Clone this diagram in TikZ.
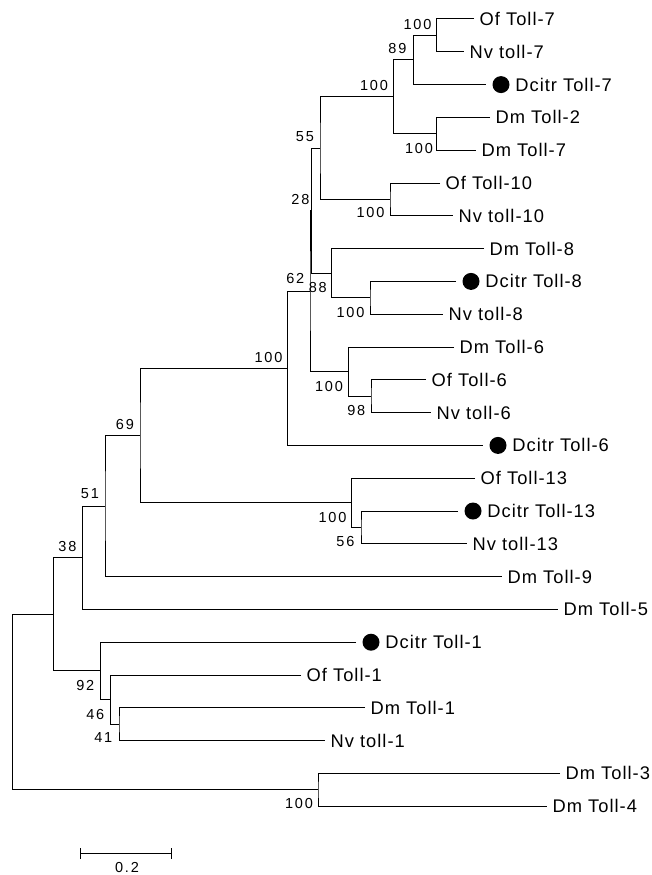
\documentclass[tikz,border=0pt]{standalone}
\usepackage{fontspec}
\setmainfont{Liberation Sans}
\newfontfamily\leaffont[LetterSpace=5.5]{Liberation Sans}
\newfontfamily\bsfont[LetterSpace=13]{Liberation Sans}
\begin{document}
\begin{tikzpicture}[x=1pt,y=-1pt,
  br/.style={line width=1pt},
  leaf/.style={anchor=west, inner sep=0pt, xshift=5.5pt, font=\leaffont\fontsize{18.3}{18.3}\selectfont, text height=13.1pt, text depth=0pt},
  boot/.style={inner sep=0pt, font=\bsfont\fontsize{14.5}{14.5}\selectfont, text height=10.4pt, text depth=0pt},
  dotmark/.style={circle, fill=black, draw=none, inner sep=0pt, minimum size=17pt}]
\useasboundingbox (0,0) rectangle (652,875);
% leaf line ends
\coordinate (of7) at (474,19);
\coordinate (nv7) at (464,51.8);
\coordinate (dc7) at (486,84.6);
\coordinate (dm2) at (490,117.4);
\coordinate (dm7) at (476,150.2);
\coordinate (of10) at (440,183);
\coordinate (nv10) at (453,215.8);
\coordinate (dm8) at (484,248.6);
\coordinate (dc8) at (456,281.4);
\coordinate (nv8) at (443,314.2);
\coordinate (dm6) at (454,347);
\coordinate (of6) at (426,379.8);
\coordinate (nv6) at (431,412.6);
\coordinate (dc6) at (483,445.4);
\coordinate (of13) at (475,478.2);
\coordinate (dc13) at (458,511);
\coordinate (nv13) at (467,543.8);
\coordinate (dm9) at (502,576.6);
\coordinate (dm5) at (558,609.4);
\coordinate (dc1) at (356,642.2);
\coordinate (of1) at (301,675);
\coordinate (dm1) at (365,707.8);
\coordinate (nv1) at (325,740.6);
\coordinate (dm3) at (560,773.4);
\coordinate (dm4) at (547,806.2);
% internal nodes
\coordinate (nA) at (436.7,35.4);
\coordinate (nB) at (413.3,60);
\coordinate (nC) at (436.7,133.8);
\coordinate (nD) at (393.3,96.9);
\coordinate (nE) at (390,199.4);
\coordinate (nF) at (320,148.15);
\coordinate (nI) at (370,297.8);
\coordinate (nP) at (331.7,273.2);
\coordinate (nG) at (311.5,210.7);
\coordinate (nJ) at (371,396.2);
\coordinate (nK) at (348.3,371.6);
\coordinate (n62) at (310,291.15);
\coordinate (nH) at (287.3,368.3);
\coordinate (nN) at (361,527.4);
\coordinate (nM) at (351.7,502.8);
\coordinate (nL) at (140,435.55);
\coordinate (nO) at (105,506.1);
\coordinate (nQ) at (82.3,557.75);
\coordinate (n41) at (119,724.2);
\coordinate (n46) at (110.7,699.6);
\coordinate (n92) at (100.7,670.9);
\coordinate (nR) at (53.3,614.3);
\coordinate (nS) at (318,789.8);
\coordinate (root) at (12.7,702.05);
% branches
\draw[br] (of7) -| (nA) |- (nv7);
\draw[br] (nA) -| (nB) |- (dc7);
\draw[br] (dm2) -| (nC) |- (dm7);
\draw[br] (nB) -| (nD) |- (nC);
\draw[br] (of10) -| (nE) |- (nv10);
\draw[br] (nD) -| (nF) |- (nE);
\draw[br] (dc8) -| (nI) |- (nv8);
\draw[br] (dm8) -| (nP) |- (nI);
\draw[br] (nF) -| (nG) |- (nP);
\draw[br] (of6) -| (nJ) |- (nv6);
\draw[br] (dm6) -| (nK) |- (nJ);
\draw[br] (nG) -| (n62) |- (nK);
\draw[br] (n62) -| (nH) |- (dc6);
\draw[br] (dc13) -| (nN) |- (nv13);
\draw[br] (of13) -| (nM) |- (nN);
\draw[br] (nH) -| (nL) |- (nM);
\draw[br] (nL) -| (nO) |- (dm9);
\draw[br] (nO) -| (nQ) |- (dm5);
\draw[br] (dm1) -| (n41) |- (nv1);
\draw[br] (of1) -| (n46) |- (n41);
\draw[br] (dc1) -| (n92) |- (n46);
\draw[br] (nQ) -| (nR) |- (n92);
\draw[br] (dm3) -| (nS) |- (dm4);
\draw[br] (nR) -| (root) |- (nS);
% dots
\node[dotmark] (Ddc7) at ([xshift=15pt]dc7) {};
\node[dotmark] (Ddc8) at ([xshift=15pt]dc8) {};
\node[dotmark] (Ddc6) at ([xshift=15pt]dc6) {};
\node[dotmark] (Ddc13) at ([xshift=15pt]dc13) {};
\node[dotmark] (Ddc1) at ([xshift=15pt]dc1) {};
% leaf labels
\node[leaf] (Lof7) at (of7) {Of Toll-7};
\node[leaf] (Lnv7) at (nv7) {Nv toll-7};
\node[leaf] (Ldc7) at (Ddc7.east) {Dcitr Toll-7};
\node[leaf] (Ldm2) at (dm2) {Dm Toll-2};
\node[leaf] (Ldm7) at (dm7) {Dm Toll-7};
\node[leaf] (Lof10) at (of10) {Of Toll-10};
\node[leaf] (Lnv10) at (nv10) {Nv toll-10};
\node[leaf] (Ldm8) at (dm8) {Dm Toll-8};
\node[leaf] (Ldc8) at (Ddc8.east) {Dcitr Toll-8};
\node[leaf] (Lnv8) at (nv8) {Nv toll-8};
\node[leaf] (Ldm6) at (dm6) {Dm Toll-6};
\node[leaf] (Lof6) at (of6) {Of Toll-6};
\node[leaf] (Lnv6) at (nv6) {Nv toll-6};
\node[leaf] (Ldc6) at (Ddc6.east) {Dcitr Toll-6};
\node[leaf] (Lof13) at (of13) {Of Toll-13};
\node[leaf] (Ldc13) at (Ddc13.east) {Dcitr Toll-13};
\node[leaf] (Lnv13) at (nv13) {Nv toll-13};
\node[leaf] (Ldm9) at (dm9) {Dm Toll-9};
\node[leaf] (Ldm5) at (dm5) {Dm Toll-5};
\node[leaf] (Ldc1) at (Ddc1.east) {Dcitr Toll-1};
\node[leaf] (Lof1) at (of1) {Of Toll-1};
\node[leaf] (Ldm1) at (dm1) {Dm Toll-1};
\node[leaf] (Lnv1) at (nv1) {Nv toll-1};
\node[leaf] (Ldm3) at (dm3) {Dm Toll-3};
\node[leaf] (Ldm4) at (dm4) {Dm Toll-4};
% bootstrap values
\node[boot] (bA) at (417.5,24) {100};
\node[boot] (bB) at (397.5,48.3) {89};
\node[boot] (bD) at (374,85) {100};
\node[boot] (bC) at (419,148.3) {100};
\node[boot] (bF) at (305,136.7) {55};
\node[boot] (bE) at (370.5,212.3) {100};
\node[boot] (bG) at (300.5,199.3) {28};
\node[boot] (b62) at (295.3,278.7) {62};
\node[boot] (bP) at (317.8,287) {88};
\node[boot] (bI) at (350.5,312) {100};
\node[boot] (bK) at (329,386.2) {100};
\node[boot] (bJ) at (356.3,410.3) {98};
\node[boot] (bH) at (268.5,357) {100};
\node[boot] (bL) at (125,423.8) {69};
\node[boot] (bM) at (332.5,517) {100};
\node[boot] (bN) at (345.5,541.7) {56};
\node[boot] (bO) at (90,493.7) {51};
\node[boot] (bQ) at (67.5,545.8) {38};
\node[boot] (b92) at (85.3,685) {92};
\node[boot] (b46) at (95.3,714) {46};
\node[boot] (b41) at (103.3,737.7) {41};
\node[boot] (bS) at (299,803.7) {100};
% scale bar
\coordinate (sbA) at (80.7,853.3);
\coordinate (sbB) at (171.7,853.3);
\draw[br] (sbA) -- (sbB);
\draw[br] ([yshift=-5.5pt]sbA) -- ([yshift=5.5pt]sbA);
\draw[br] ([yshift=-5.5pt]sbB) -- ([yshift=5.5pt]sbB);
\node[boot] (sbL) at (127,867.5) {0.2};
\end{tikzpicture}
\end{document}
